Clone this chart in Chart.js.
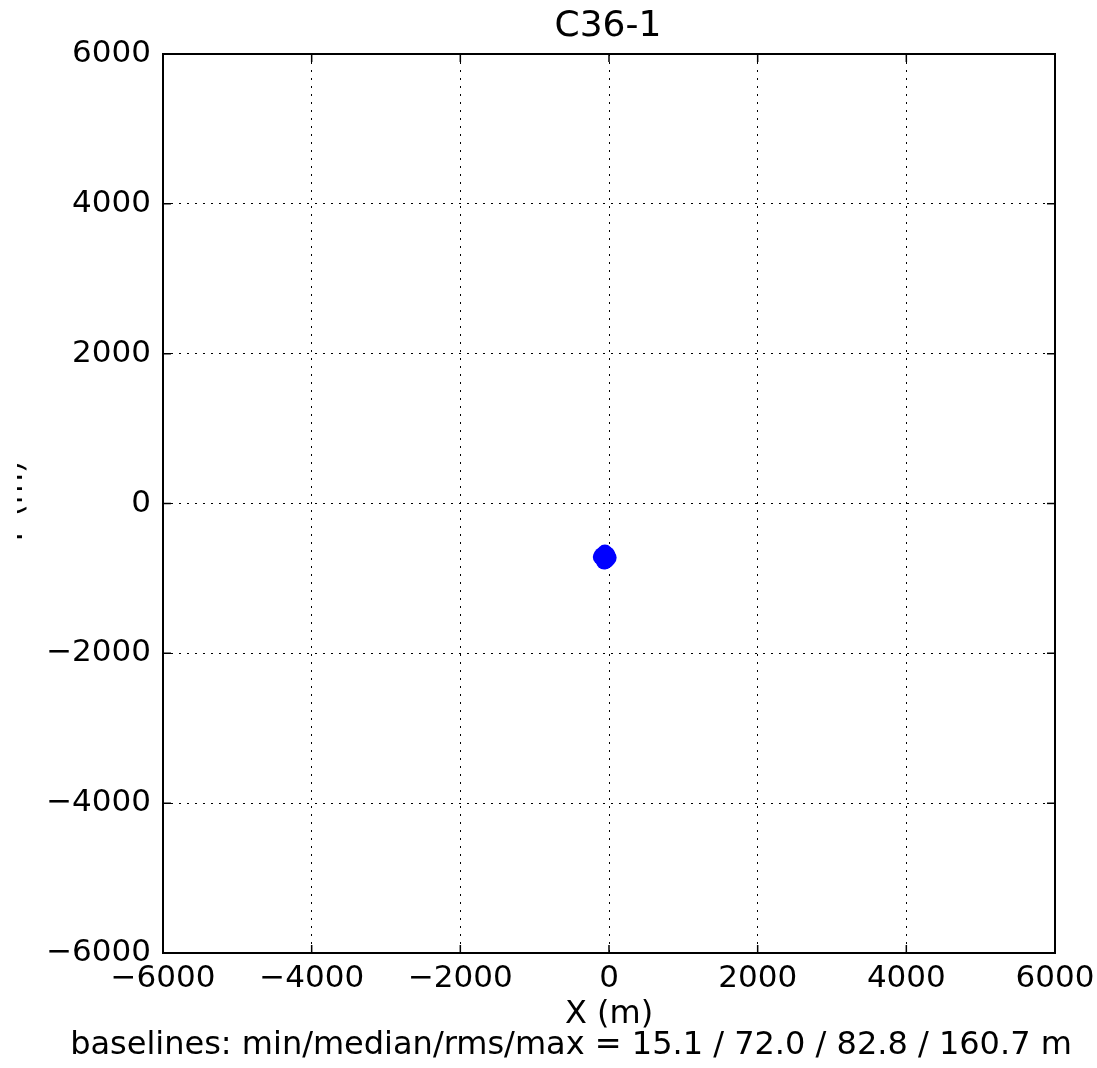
<!DOCTYPE html>
<html lang="en">
<head>
    <meta charset="UTF-8">
    <title>C36-1</title>
    <script src="https://cdn.jsdelivr.net/npm/chart.js"></script>
    <style>
        body { margin: 0; padding: 0; background: #ffffff; }
        #wrap { width: 1097px; height: 1068px; }
    </style>
</head>
<body>
    <div id="wrap"><canvas id="plot" width="1097" height="1068"></canvas></div>
    <script>
        // antenna positions (m) - one tight cluster
        const antX = [-110, -95, -80, -70, -60, -50, -40, -30, -15, -5, -55, -65, -45, -35, -85, -25, -50, -70];
        const antY = [-715, -690, -745, -680, -720, -770, -690, -735, -705, -725, -655, -775, -705, -760, -720, -680, -740, -700];
        const tickVals = [-6000, -4000, -2000, 0, 2000, 4000, 6000];
        const titleText = 'C36-1';
        const xTitle = 'X (m)';
        const yTitle = 'Y (m)';
        const footer = 'baselines: min/median/rms/max = 15.1 / 72.0 / 82.8 / 160.7 m';

        const FONT = '"DejaVu Sans", sans-serif';
        const fmt = (v) => String(v).replace('-', '\u2212');

        const points = antX.map((x, i) => ({ x: x, y: antY[i] }));

        // frame, inside ticks and the texts, matplotlib classic look
        const decor = {
            id: 'decor',
            afterDraw(chart) {
                const ctx = chart.ctx;
                const a = chart.chartArea;
                const xs = chart.scales.x, ys = chart.scales.y;
                ctx.save();
                ctx.strokeStyle = '#000';
                ctx.lineWidth = 1.5;
                ctx.beginPath();
                tickVals.forEach((v) => {
                    const px = xs.getPixelForValue(v);
                    ctx.moveTo(px, a.bottom); ctx.lineTo(px, a.bottom - 8);
                    ctx.moveTo(px, a.top); ctx.lineTo(px, a.top + 8);
                    const py = ys.getPixelForValue(v);
                    ctx.moveTo(a.left, py); ctx.lineTo(a.left + 8, py);
                    ctx.moveTo(a.right, py); ctx.lineTo(a.right - 8, py);
                });
                ctx.stroke();
                ctx.lineWidth = 2;
                ctx.strokeRect(a.left, a.top, a.right - a.left, a.bottom - a.top);

                const cx = (a.left + a.right) / 2;
                ctx.fillStyle = '#000';
                ctx.textAlign = 'center';
                ctx.textBaseline = 'middle';
                ctx.font = '36px ' + FONT;
                ctx.fillText(titleText, cx - 1, 27);
                ctx.font = '32px ' + FONT;
                ctx.fillText(xTitle, cx, 1015);
                ctx.fillText(footer, 571, 1046);

                // y title, cut by the left edge like the original
                ctx.beginPath();
                ctx.rect(17, 0, 200, 1068);
                ctx.clip();
                ctx.translate(14, (a.top + a.bottom) / 2);
                ctx.rotate(-Math.PI / 2);
                ctx.fillText(yTitle, 0, 0);
                ctx.restore();
            }
        };

        const axisCommon = {
            type: 'linear',
            min: -6000,
            max: 6000,
            afterBuildTicks: (scale) => { scale.ticks = tickVals.map((v) => ({ value: v })); },
            grid: { color: '#000', lineWidth: 1, drawTicks: false },
            border: { display: false, dash: [2, 6] },
            ticks: {
                color: '#000',
                font: { family: FONT, size: 31 },
                callback: (v) => fmt(v)
            }
        };

        new Chart(document.getElementById('plot'), {
            type: 'scatter',
            data: {
                datasets: [{
                    label: 'antennas',
                    data: points,
                    backgroundColor: '#0000ff',
                    borderWidth: 0,
                    pointRadius: 8
                }]
            },
            options: {
                responsive: false,
                animation: false,
                layout: { padding: { left: 0, right: 42, top: 54, bottom: 0 } },
                plugins: { legend: { display: false }, tooltip: { enabled: false } },
                scales: {
                    x: Object.assign({}, axisCommon, {
                        position: 'bottom',
                        ticks: Object.assign({}, axisCommon.ticks, { padding: 7, maxRotation: 0 }),
                        afterFit: (s) => { s.height = 115; s.paddingLeft = 0; s.paddingRight = 0; }
                    }),
                    y: Object.assign({}, axisCommon, {
                        position: 'left',
                        ticks: Object.assign({}, axisCommon.ticks, { padding: 12 }),
                        afterFit: (s) => { s.width = 163; s.paddingTop = 0; s.paddingBottom = 0; }
                    })
                }
            },
            plugins: [decor]
        });
    </script>
</body>
</html>
